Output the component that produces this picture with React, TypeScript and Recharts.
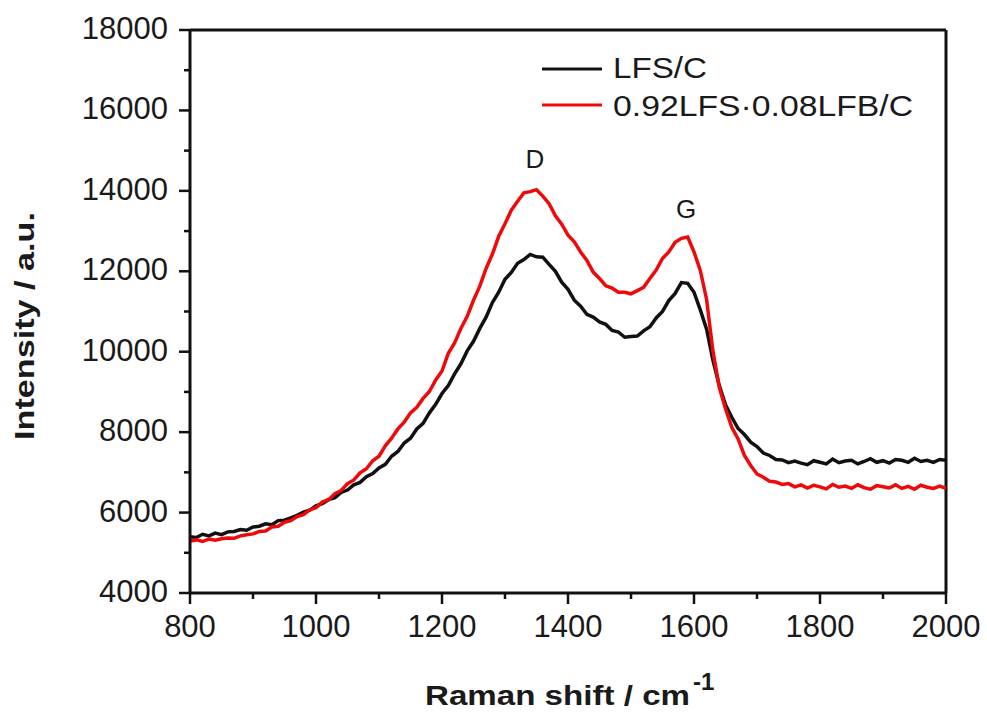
import React from "react";
import { LineChart, Line, XAxis, YAxis, ReferenceLine } from "recharts";

const ramanShift = [
  800, 810, 820, 830, 840, 850, 860, 870, 880, 890,
  900, 910, 920, 930, 940, 950, 960, 970, 980, 990,
  1000, 1010, 1020, 1030, 1040, 1050, 1060, 1070, 1080, 1090,
  1100, 1110, 1120, 1130, 1140, 1150, 1160, 1170, 1180, 1190,
  1200, 1210, 1220, 1230, 1240, 1250, 1260, 1270, 1280, 1290,
  1300, 1310, 1320, 1330, 1340, 1350, 1360, 1370, 1380, 1390,
  1400, 1410, 1420, 1430, 1440, 1450, 1460, 1470, 1480, 1490,
  1500, 1510, 1520, 1530, 1540, 1550, 1560, 1570, 1580, 1590,
  1600, 1610, 1620, 1630, 1640, 1650, 1660, 1670, 1680, 1690,
  1700, 1710, 1720, 1730, 1740, 1750, 1760, 1770, 1780, 1790,
  1800, 1810, 1820, 1830, 1840, 1850, 1860, 1870, 1880, 1890,
  1900, 1910, 1920, 1930, 1940, 1950, 1960, 1970, 1980, 1990,
  2000,
];

const lfsC = [
  5400, 5380, 5460, 5420, 5490, 5450, 5520, 5530, 5580, 5560,
  5640, 5660, 5720, 5700, 5800, 5810, 5870, 5930, 6010, 6060,
  6170, 6220, 6320, 6370, 6500, 6560, 6690, 6750, 6890, 6970,
  7110, 7200, 7400, 7520, 7730, 7850, 8080, 8220, 8480, 8690,
  8960, 9160, 9450, 9700, 10020, 10260, 10580, 10860, 11220, 11480,
  11800, 11970, 12200, 12290, 12420, 12360, 12350, 12170, 12000, 11730,
  11550, 11280, 11130, 10930, 10860, 10740, 10680, 10530, 10490, 10360,
  10380, 10390, 10520, 10620, 10840, 11000, 11270, 11450, 11720, 11700,
  11480, 11040, 10560, 9790, 9170, 8680, 8370, 8090, 7940, 7750,
  7640, 7480, 7420, 7320, 7310, 7240, 7280, 7230, 7190, 7290,
  7250, 7210, 7330, 7240, 7280, 7300, 7210, 7270, 7340, 7250,
  7290, 7230, 7320, 7300, 7250, 7350, 7270, 7300, 7250, 7320,
  7300,
];

const lfsLfbC = [
  5290, 5320, 5280, 5340, 5310, 5350, 5370, 5360, 5420, 5450,
  5470, 5530, 5540, 5640, 5660, 5760, 5800, 5900, 5950, 6070,
  6120, 6260, 6320, 6470, 6550, 6720, 6810, 6990, 7090, 7290,
  7400, 7660, 7850, 8080, 8250, 8480, 8620, 8840, 9010, 9300,
  9520, 9960, 10220, 10580, 10880, 11280, 11630, 12070, 12430, 12870,
  13180, 13520, 13740, 13950, 13980, 14030, 13870, 13680, 13380, 13170,
  12900, 12730, 12480, 12270, 11980, 11820, 11640, 11580, 11480, 11480,
  11440, 11520, 11600, 11820, 12030, 12320, 12480, 12720, 12820, 12850,
  12480, 12020, 11300, 10020, 9120, 8580, 8120, 7830, 7420, 7170,
  6960, 6880, 6780, 6760, 6700, 6720, 6640, 6690, 6610, 6680,
  6640, 6590, 6700, 6630, 6660, 6600, 6690, 6620, 6580, 6670,
  6640, 6610, 6690, 6600, 6650, 6580, 6680, 6630, 6600, 6660,
  6600,
];

const xTicks = [800, 900, 1000, 1100, 1200, 1300, 1400, 1500, 1600, 1700, 1800, 1900, 2000];
const yTicks = [4000, 5000, 6000, 7000, 8000, 9000, 10000, 11000, 12000, 13000, 14000, 15000, 16000, 17000, 18000];

const seriesNames = ["LFS/C", "0.92LFS\u00b70.08LFB/C"];
const seriesColors = ["#111111", "#ee0a0a"];

const data = ramanShift.map((x, i) => ({ x, a: lfsC[i], b: lfsLfbC[i] }));

const FONT = "'Liberation Sans', Arial, Helvetica, sans-serif";
const TEXT = "#1a1a1a";

const XTick = (props: any) => {
  const { x, y, payload } = props;
  const v = payload.value;
  const major = v % 200 === 0;
  return (
    <g>
      <line x1={x} y1={y} x2={x} y2={y + (major ? 11 : 6)} stroke="#111" strokeWidth={2.5} />
      {major && (
        <text x={x} y={y + 44} textAnchor="middle" fontSize={31} fontFamily={FONT} fill={TEXT}>
          {v}
        </text>
      )}
    </g>
  );
};

const YTick = (props: any) => {
  const { x, y, payload } = props;
  const v = payload.value;
  const major = v % 2000 === 0;
  return (
    <g>
      <line x1={x - (major ? 11 : 6)} y1={y} x2={x} y2={y} stroke="#111" strokeWidth={2.5} />
      {major && (
        <text x={x - 22} y={y + 9} textAnchor="end" fontSize={31} fontFamily={FONT} fill={TEXT}>
          {v}
        </text>
      )}
    </g>
  );
};

export default function App() {
  return (
    <div style={{ position: "absolute", left: 0, top: 0, width: 987, height: 715, background: "#fff" }}>
      <LineChart
        width={987}
        height={715}
        data={data}
        margin={{ top: 30, right: 41, bottom: 62, left: 0 }}
      >
        <XAxis
          type="number"
          dataKey="x"
          domain={[800, 2000]}
          ticks={xTicks}
          interval={0}
          height={60}
          tickSize={0}
          tickMargin={0}
          tickLine={false}
          tick={<XTick />}
          axisLine={{ stroke: "#111", strokeWidth: 3 }}
          allowDataOverflow
        />
        <YAxis
          type="number"
          domain={[4000, 18000]}
          ticks={yTicks}
          interval={0}
          width={190}
          tickSize={0}
          tickMargin={0}
          tickLine={false}
          tick={<YTick />}
          axisLine={{ stroke: "#111", strokeWidth: 3 }}
          allowDataOverflow
        />
        <ReferenceLine y={18000} stroke="#111" strokeWidth={3} />
        <ReferenceLine x={2000} stroke="#111" strokeWidth={3} />
        <Line
          type="linear"
          dataKey="a"
          name={seriesNames[0]}
          stroke={seriesColors[0]}
          strokeWidth={3.5}
          strokeLinejoin="miter"
          dot={false}
          isAnimationActive={false}
        />
        <Line
          type="linear"
          dataKey="b"
          name={seriesNames[1]}
          stroke={seriesColors[1]}
          strokeWidth={3.5}
          strokeLinejoin="miter"
          dot={false}
          isAnimationActive={false}
        />
      </LineChart>
      <svg
        width={987}
        height={715}
        style={{ position: "absolute", left: 0, top: 0, pointerEvents: "none" }}
      >
        <line x1={542} y1={69} x2={602} y2={69} stroke={seriesColors[0]} strokeWidth={3} />
        <text x={613} y={78} fontSize={29} fontFamily={FONT} fill={TEXT} textLength={94} lengthAdjust="spacingAndGlyphs">
          {seriesNames[0]}
        </text>
        <line x1={542} y1={105} x2={602} y2={105} stroke={seriesColors[1]} strokeWidth={3} />
        <text x={613} y={116} fontSize={29} fontFamily={FONT} fill={TEXT} textLength={300} lengthAdjust="spacingAndGlyphs">
          {seriesNames[1]}
        </text>
        <text x={535} y={168} textAnchor="middle" fontSize={26} fontFamily={FONT} fill={TEXT}>D</text>
        <text x={686} y={218} textAnchor="middle" fontSize={26} fontFamily={FONT} fill={TEXT}>G</text>
        <text x={425} y={705} fontSize={28} fontWeight="bold" fontFamily={FONT} fill={TEXT} textLength={265} lengthAdjust="spacingAndGlyphs">
          Raman shift / cm
        </text>
        <text x={693} y={690} fontSize={24} fontWeight="bold" fontFamily={FONT} fill={TEXT}>-1</text>
        <text
          x={34}
          y={326}
          transform="rotate(-90 34 326)"
          textAnchor="middle"
          fontSize={28}
          fontWeight="bold"
          fontFamily={FONT}
          fill={TEXT}
          textLength={228}
          lengthAdjust="spacingAndGlyphs"
        >
          Intensity / a.u.
        </text>
      </svg>
    </div>
  );
}
